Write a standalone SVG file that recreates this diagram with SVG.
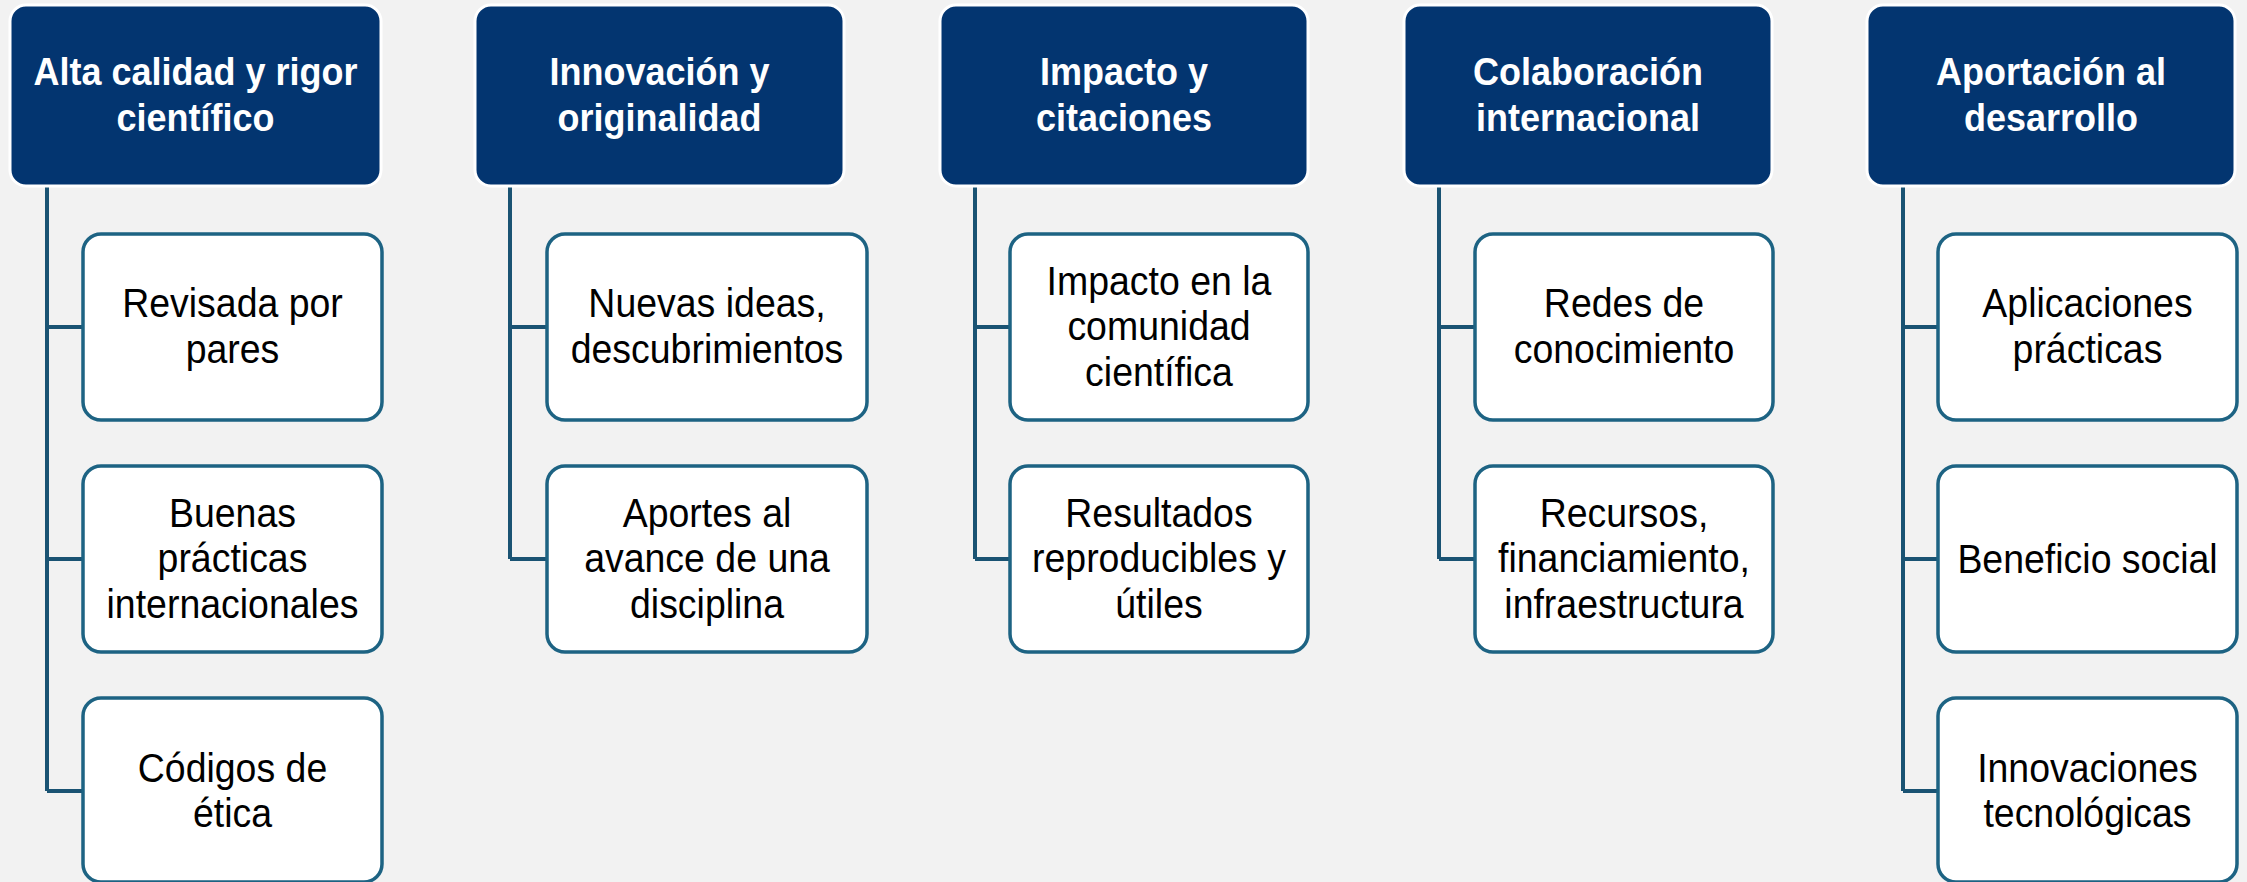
<svg xmlns="http://www.w3.org/2000/svg" width="2247" height="882" viewBox="0 0 2247 882">
<style>
.bg{fill:#f2f2f2}
.hdr{fill:#033570;stroke:#ffffff;stroke-width:3}
.box{fill:#ffffff;stroke:#1d6383;stroke-width:3.5}
.ht{font-family:"Liberation Sans",Arial,sans-serif;font-weight:bold;font-size:38.5px;fill:#ffffff;text-anchor:middle}
.bt{font-family:"Liberation Sans",Arial,sans-serif;font-size:40.5px;fill:#000000;text-anchor:middle}
.con{fill:none;stroke:#1a5373;stroke-width:4}
</style>
<rect class="bg" x="0" y="0" width="2247" height="882"/>
<g id="connectors">
<path class="con" d="M47 186 V791 M47 327 H83 M47 559 H83 M47 791 H83"/>
<path class="con" d="M510 186 V559 M510 327 H547 M510 559 H547"/>
<path class="con" d="M975 186 V559 M975 327 H1010 M975 559 H1010"/>
<path class="con" d="M1439 186 V559 M1439 327 H1475 M1439 559 H1475"/>
<path class="con" d="M1903 186 V791 M1903 327 H1938 M1903 559 H1938 M1903 791 H1938"/>
</g>
<g id="h1"><rect class="hdr" x="10" y="5" width="371" height="181" rx="16"/><text class="ht" transform="translate(195.5 0) scale(0.935 1)"><tspan x="0" y="85">Alta calidad y rigor</tspan><tspan x="0" y="131">científico</tspan></text></g>
<g id="h2"><rect class="hdr" x="475" y="5" width="369" height="181" rx="16"/><text class="ht" transform="translate(659.5 0) scale(0.935 1)"><tspan x="0" y="85">Innovación y</tspan><tspan x="0" y="131">originalidad</tspan></text></g>
<g id="h3"><rect class="hdr" x="940" y="5" width="368" height="181" rx="16"/><text class="ht" transform="translate(1124 0) scale(0.935 1)"><tspan x="0" y="85">Impacto y</tspan><tspan x="0" y="131">citaciones</tspan></text></g>
<g id="h4"><rect class="hdr" x="1404" y="5" width="368" height="181" rx="16"/><text class="ht" transform="translate(1588 0) scale(0.935 1)"><tspan x="0" y="85">Colaboración</tspan><tspan x="0" y="131">internacional</tspan></text></g>
<g id="h5"><rect class="hdr" x="1867" y="5" width="368" height="181" rx="16"/><text class="ht" transform="translate(2051 0) scale(0.935 1)"><tspan x="0" y="85">Aportación al</tspan><tspan x="0" y="131">desarrollo</tspan></text></g>

<g id="c1a"><rect class="box" x="83" y="234" width="299" height="186" rx="18"/><text class="bt" transform="translate(232.5 0) scale(0.925 1)"><tspan x="0" y="317">Revisada por</tspan><tspan x="0" y="363">pares</tspan></text></g>
<g id="c1b"><rect class="box" x="83" y="466" width="299" height="186" rx="18"/><text class="bt" transform="translate(232.5 0) scale(0.925 1)"><tspan x="0" y="527">Buenas</tspan><tspan x="0" y="572.5">prácticas</tspan><tspan x="0" y="618">internacionales</tspan></text></g>
<g id="c1c"><rect class="box" x="83" y="698" width="299" height="184" rx="18"/><text class="bt" transform="translate(232.5 0) scale(0.925 1)"><tspan x="0" y="782">Códigos de</tspan><tspan x="0" y="827">ética</tspan></text></g>

<g id="c2a"><rect class="box" x="547" y="234" width="320" height="186" rx="18"/><text class="bt" transform="translate(707 0) scale(0.925 1)"><tspan x="0" y="317">Nuevas ideas,</tspan><tspan x="0" y="363">descubrimientos</tspan></text></g>
<g id="c2b"><rect class="box" x="547" y="466" width="320" height="186" rx="18"/><text class="bt" transform="translate(707 0) scale(0.925 1)"><tspan x="0" y="527">Aportes al</tspan><tspan x="0" y="572.5">avance de una</tspan><tspan x="0" y="618">disciplina</tspan></text></g>

<g id="c3a"><rect class="box" x="1010" y="234" width="298" height="186" rx="18"/><text class="bt" transform="translate(1159 0) scale(0.925 1)"><tspan x="0" y="295">Impacto en la</tspan><tspan x="0" y="340.5">comunidad</tspan><tspan x="0" y="386">científica</tspan></text></g>
<g id="c3b"><rect class="box" x="1010" y="466" width="298" height="186" rx="18"/><text class="bt" transform="translate(1159 0) scale(0.925 1)"><tspan x="0" y="527">Resultados</tspan><tspan x="0" y="572.5">reproducibles y</tspan><tspan x="0" y="618">útiles</tspan></text></g>

<g id="c4a"><rect class="box" x="1475" y="234" width="298" height="186" rx="18"/><text class="bt" transform="translate(1624 0) scale(0.925 1)"><tspan x="0" y="317">Redes de</tspan><tspan x="0" y="363">conocimiento</tspan></text></g>
<g id="c4b"><rect class="box" x="1475" y="466" width="298" height="186" rx="18"/><text class="bt" transform="translate(1624 0) scale(0.925 1)"><tspan x="0" y="527">Recursos,</tspan><tspan x="0" y="572.5">financiamiento,</tspan><tspan x="0" y="618">infraestructura</tspan></text></g>

<g id="c5a"><rect class="box" x="1938" y="234" width="299" height="186" rx="18"/><text class="bt" transform="translate(2087.5 0) scale(0.925 1)"><tspan x="0" y="317">Aplicaciones</tspan><tspan x="0" y="363">prácticas</tspan></text></g>
<g id="c5b"><rect class="box" x="1938" y="466" width="299" height="186" rx="18"/><text class="bt" transform="translate(2087.5 0) scale(0.925 1)"><tspan x="0" y="573">Beneficio social</tspan></text></g>
<g id="c5c"><rect class="box" x="1938" y="698" width="299" height="184" rx="18"/><text class="bt" transform="translate(2087.5 0) scale(0.925 1)"><tspan x="0" y="782">Innovaciones</tspan><tspan x="0" y="827">tecnológicas</tspan></text></g>
</svg>
